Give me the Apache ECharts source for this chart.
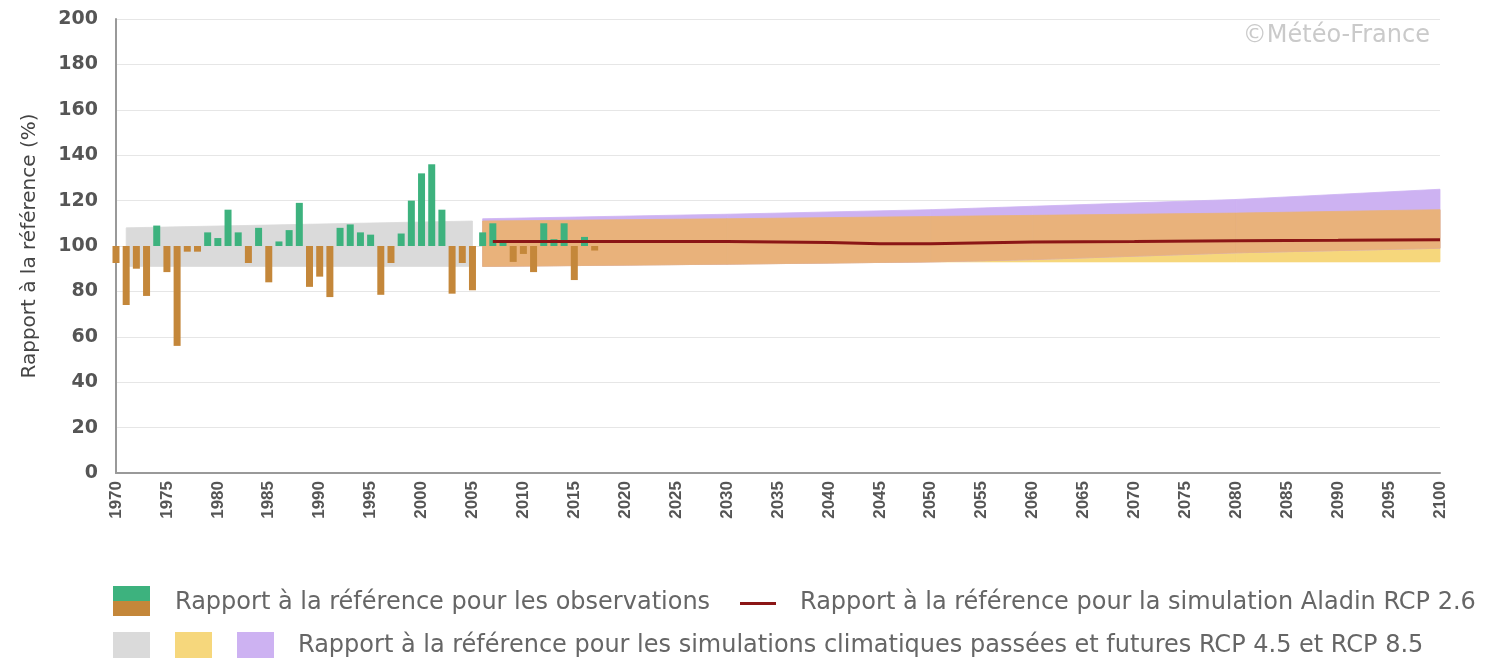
<!DOCTYPE html>
<html>
<head>
<meta charset="utf-8">
<script src="https://cdn.jsdelivr.net/npm/echarts@6/dist/echarts.min.js"></script>
<style>
  html, body { margin: 0; padding: 0; background: #fff; }
  #chart { width: 1496px; height: 658px; }
</style>
</head>
<body>
<div id="chart"></div>
<script>
  // observations (rapport a la reference, %)
  var obsYears = [1970, 1971, 1972, 1973, 1974, 1975, 1976, 1977, 1978, 1979,
    1980, 1981, 1982, 1983, 1984, 1985, 1986, 1987, 1988, 1989,
    1990, 1991, 1992, 1993, 1994, 1995, 1996, 1997, 1998, 1999,
    2000, 2001, 2002, 2003, 2004, 2005, 2006, 2007, 2008, 2009,
    2010, 2011, 2012, 2013, 2014, 2015, 2016, 2017];
  var obsValues = [92.5, 74, 90, 78, 109, 88.5, 56, 97.5, 97.5, 106,
    103.5, 116, 106, 92.5, 108, 84, 102, 107, 119, 82,
    86.5, 77.5, 108, 109.5, 106, 105, 78.5, 92.5, 105.5, 120,
    132, 136, 116, 79, 92.5, 80.5, 106, 110, 102, 93,
    96.5, 88.5, 110, 103, 110, 85, 104, 98];

  // simulations passees (gris)
  var pastYears = [1971, 2005];
  var pastLow = [91, 91];
  var pastHigh = [108, 111];

  // simulations futures RCP 4.5 (jaune) et RCP 8.5 (violet)
  var futYears = [2006, 2030, 2050, 2060, 2080, 2100];
  var rcp45Low = [91, 92, 93, 93, 93, 93];
  var rcp45High = [111, 112, 113, 113.5, 114.5, 116];
  var rcp85Low = [91, 92, 93, 94, 97, 99];
  var rcp85High = [112, 114, 116, 117.5, 120.5, 125];

  // Aladin RCP 2.6
  var aladinYears = [2007, 2020, 2030, 2040, 2045, 2050, 2060, 2070, 2080, 2090, 2100];
  var aladinValues = [102, 102, 102, 101.5, 101, 101, 101.8, 102, 102.3, 102.5, 102.8];

  var green = '#3DB27E', brown = '#C4873A';
  var cGrey = '#DADADA', cYellow = '#F6D77C', cOrange = '#E9B27B', cPurple = '#CDB2F2';
  var txt = '#666';
  var font = '"DejaVu Sans"';

  // one trapezoid per pair of consecutive points: [x0, low0, high0, x1, low1, high1]
  function segments(xs, lows, highs) {
    var out = [];
    for (var i = 0; i < xs.length - 1; i++) {
      out.push([xs[i], lows[i], highs[i], xs[i + 1], lows[i + 1], highs[i + 1]]);
    }
    return out;
  }
  function band(name, data, color) {
    return {
      name: name, type: 'custom', silent: true, z: 1,
      renderItem: function (params, api) {
        var a = api.coord([api.value(0), api.value(1)]);
        var b = api.coord([api.value(0), api.value(2)]);
        var c = api.coord([api.value(3), api.value(5)]);
        var d = api.coord([api.value(3), api.value(4)]);
        return {
          type: 'polygon', shape: { points: [a, b, c, d] },
          style: { fill: color, stroke: color, lineWidth: 0.8 }
        };
      },
      encode: { x: [0, 3], y: [1, 2, 4, 5] },
      data: data
    };
  }
  var overlapLow = rcp45Low.map(function (v, i) { return Math.max(v, rcp85Low[i]); });
  var overlapHigh = rcp45High.map(function (v, i) { return Math.min(v, rcp85High[i]); });

  var chart = echarts.init(document.getElementById('chart'));
  var option = {
    animation: false,
    grid: { left: 116, right: 56, top: 19, bottom: 185 },
    xAxis: {
      type: 'value', min: 1970, max: 2100, interval: 5,
      axisLine: { show: true, onZero: false, lineStyle: { color: '#999', width: 2 } },
      axisTick: { show: false },
      splitLine: { show: false },
      axisLabel: {
        rotate: 90, margin: 8, color: '#555', fontWeight: 'bold',
        fontFamily: 'Liberation Sans', fontSize: 17,
        formatter: function (v) { return String(v); }
      }
    },
    yAxis: {
      type: 'value', min: 0, max: 200, interval: 20,
      name: 'Rapport à la référence (%)', nameLocation: 'middle', nameGap: 76,
      nameTextStyle: { color: '#444', fontSize: 20, fontFamily: 'DejaVu Sans' },
      axisLine: { show: true, lineStyle: { color: '#999', width: 2 } },
      axisTick: { show: false },
      splitLine: { lineStyle: { color: '#E6E6E6', width: 1 } },
      axisLabel: {
        margin: 18, color: '#555', fontWeight: 'bold',
        fontFamily: 'DejaVu Sans', fontSize: 19
      }
    },
    series: [
      band('past', segments(pastYears, pastLow, pastHigh), cGrey),
      band('rcp45', segments(futYears, rcp45Low, rcp45High), cYellow),
      band('rcp85', segments(futYears, rcp85Low, rcp85High), cPurple),
      band('both', segments(futYears, overlapLow, overlapHigh), cOrange),
      {
        name: 'obs', type: 'custom', z: 3,
        renderItem: function (params, api) {
          var v = api.value(1);
          var top = api.coord([api.value(0), Math.max(v, 100)]);
          var bot = api.coord([api.value(0), Math.min(v, 100)]);
          return {
            type: 'rect',
            shape: { x: top[0] - 3.5, y: top[1], width: 7, height: bot[1] - top[1] },
            style: { fill: v >= 100 ? green : brown }
          };
        },
        encode: { x: 0, y: 1 },
        data: obsYears.map(function (y, i) { return [y, obsValues[i]]; })
      },
      {
        name: 'aladin', type: 'line', symbol: 'none', z: 5,
        lineStyle: { color: '#8B1616', width: 3 },
        data: aladinYears.map(function (y, i) { return [y, aladinValues[i]]; })
      }
    ],
    graphic: [
      { type: 'text', right: 66, top: 24,
        style: { text: '©Météo-France', fill: '#CACACA', font: '24px ' + font } },
      // ligne 1 de la legende
      { type: 'rect', shape: { x: 113, y: 586, width: 37, height: 15 }, style: { fill: green } },
      { type: 'rect', shape: { x: 113, y: 601, width: 37, height: 15 }, style: { fill: brown } },
      { type: 'text', x: 175, y: 603,
        style: { text: 'Rapport à la référence pour les observations', fill: txt,
          font: '24px ' + font, textVerticalAlign: 'middle' } },
      { type: 'rect', shape: { x: 740, y: 602, width: 36, height: 3 }, style: { fill: '#8B1616' } },
      { type: 'text', x: 800, y: 603,
        style: { text: 'Rapport à la référence pour la simulation Aladin RCP 2.6', fill: txt,
          font: '24px ' + font, textVerticalAlign: 'middle' } },
      // ligne 2
      { type: 'rect', shape: { x: 113, y: 632, width: 37, height: 28 }, style: { fill: cGrey } },
      { type: 'rect', shape: { x: 175, y: 632, width: 37, height: 28 }, style: { fill: cYellow } },
      { type: 'rect', shape: { x: 237, y: 632, width: 37, height: 28 }, style: { fill: cPurple } },
      { type: 'text', x: 298, y: 646,
        style: { text: 'Rapport à la référence pour les simulations climatiques passées et futures RCP 4.5 et RCP 8.5',
          fill: txt, font: '24px ' + font, textVerticalAlign: 'middle' } }
    ]
  };
  chart.setOption(option);
</script>
</body>
</html>
